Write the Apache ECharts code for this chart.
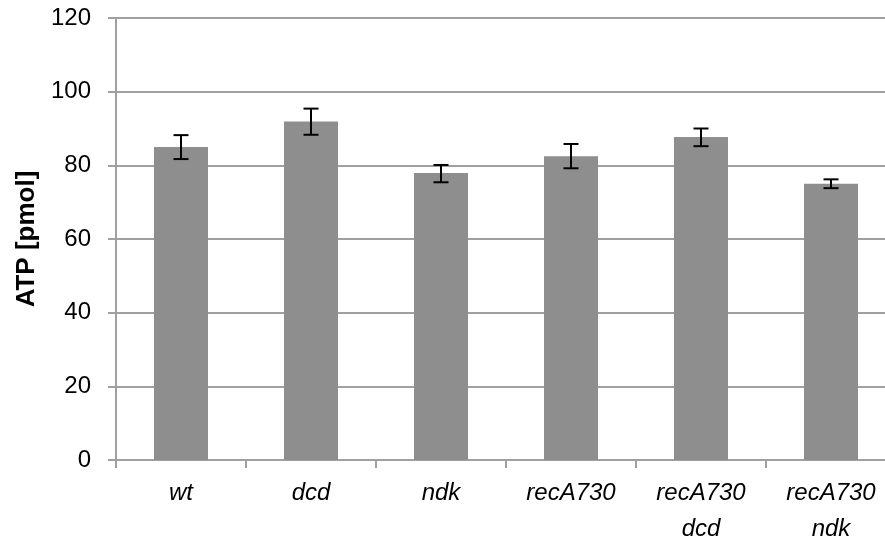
<!DOCTYPE html>
<html>
<head>
<meta charset="utf-8">
<script src="https://cdn.jsdelivr.net/npm/echarts@6/dist/echarts.min.js"></script>
<style>
  html, body { margin: 0; padding: 0; background: #fff; }
  #main { width: 885px; height: 539px; }
</style>
</head>
<body>
<div id="main"></div>
<script>
// categories and values
var strains = ['wt', 'dcd', 'ndk', 'recA730', 'recA730\ndcd', 'recA730\nndk'];
var atp = [85.0, 91.9, 77.9, 82.5, 87.7, 75.0];
var errLow = [81.7, 88.3, 75.4, 79.2, 85.2, 73.8];
var errHigh = [88.2, 95.4, 80.1, 85.8, 90.0, 76.2];
var yTicks = [0, 20, 40, 60, 80, 100, 120];

var chart = echarts.init(document.getElementById('main'), null, { renderer: 'canvas' });

var errData = strains.map(function (s, i) {
  return [i, errLow[i], errHigh[i]];
});

var option = {
  animation: false,
  grid: {
    left: 116,
    top: 18,
    width: 780,
    height: 442,
    containLabel: false,
    outerBoundsMode: 'none'
  },
  xAxis: {
    type: 'category',
    data: strains,
    boundaryGap: true,
    axisLine: { lineStyle: { color: '#a0a0a0', width: 2 } },
    axisTick: { show: true, interval: 0, length: 8, lineStyle: { color: '#a0a0a0', width: 2 } },
    axisLabel: {
      interval: 0,
      margin: 15,
      fontFamily: 'Liberation Sans, Arial, sans-serif',
      fontSize: 24,
      fontStyle: 'italic',
      color: '#000',
      lineHeight: 36
    }
  },
  yAxis: {
    type: 'value',
    min: yTicks[0],
    max: yTicks[yTicks.length - 1],
    interval: 20,
    name: 'ATP [pmol]',
    nameLocation: 'middle',
    nameGap: 76,
    nameTextStyle: {
      fontFamily: 'Liberation Sans, Arial, sans-serif',
      fontSize: 26,
      fontWeight: 'bold',
      color: '#000'
    },
    axisLine: { show: true, lineStyle: { color: '#a0a0a0', width: 2 } },
    axisTick: { show: true, length: 8, lineStyle: { color: '#a0a0a0', width: 2 } },
    axisLabel: {
      margin: 25,
      fontFamily: 'Liberation Sans, Arial, sans-serif',
      fontSize: 24,
      color: '#000'
    },
    splitLine: { lineStyle: { color: '#a0a0a0', width: 2 } }
  },
  series: [
    {
      type: 'bar',
      data: atp,
      barWidth: 54,
      itemStyle: { color: '#8e8e8e' }
    },
    {
      type: 'custom',
      data: errData,
      z: 10,
      renderItem: function (params, api) {
        var x = api.value(0);
        var lo = api.coord([x, api.value(1)]);
        var hi = api.coord([x, api.value(2)]);
        var half = 7.5;
        var style = { stroke: '#000', lineWidth: 2 };
        return {
          type: 'group',
          children: [
            { type: 'line', shape: { x1: hi[0], y1: hi[1], x2: lo[0], y2: lo[1] }, style: style },
            { type: 'line', shape: { x1: hi[0] - half, y1: hi[1], x2: hi[0] + half, y2: hi[1] }, style: style },
            { type: 'line', shape: { x1: lo[0] - half, y1: lo[1], x2: lo[0] + half, y2: lo[1] }, style: style }
          ]
        };
      }
    }
  ]
};

chart.setOption(option);
</script>
</body>
</html>
